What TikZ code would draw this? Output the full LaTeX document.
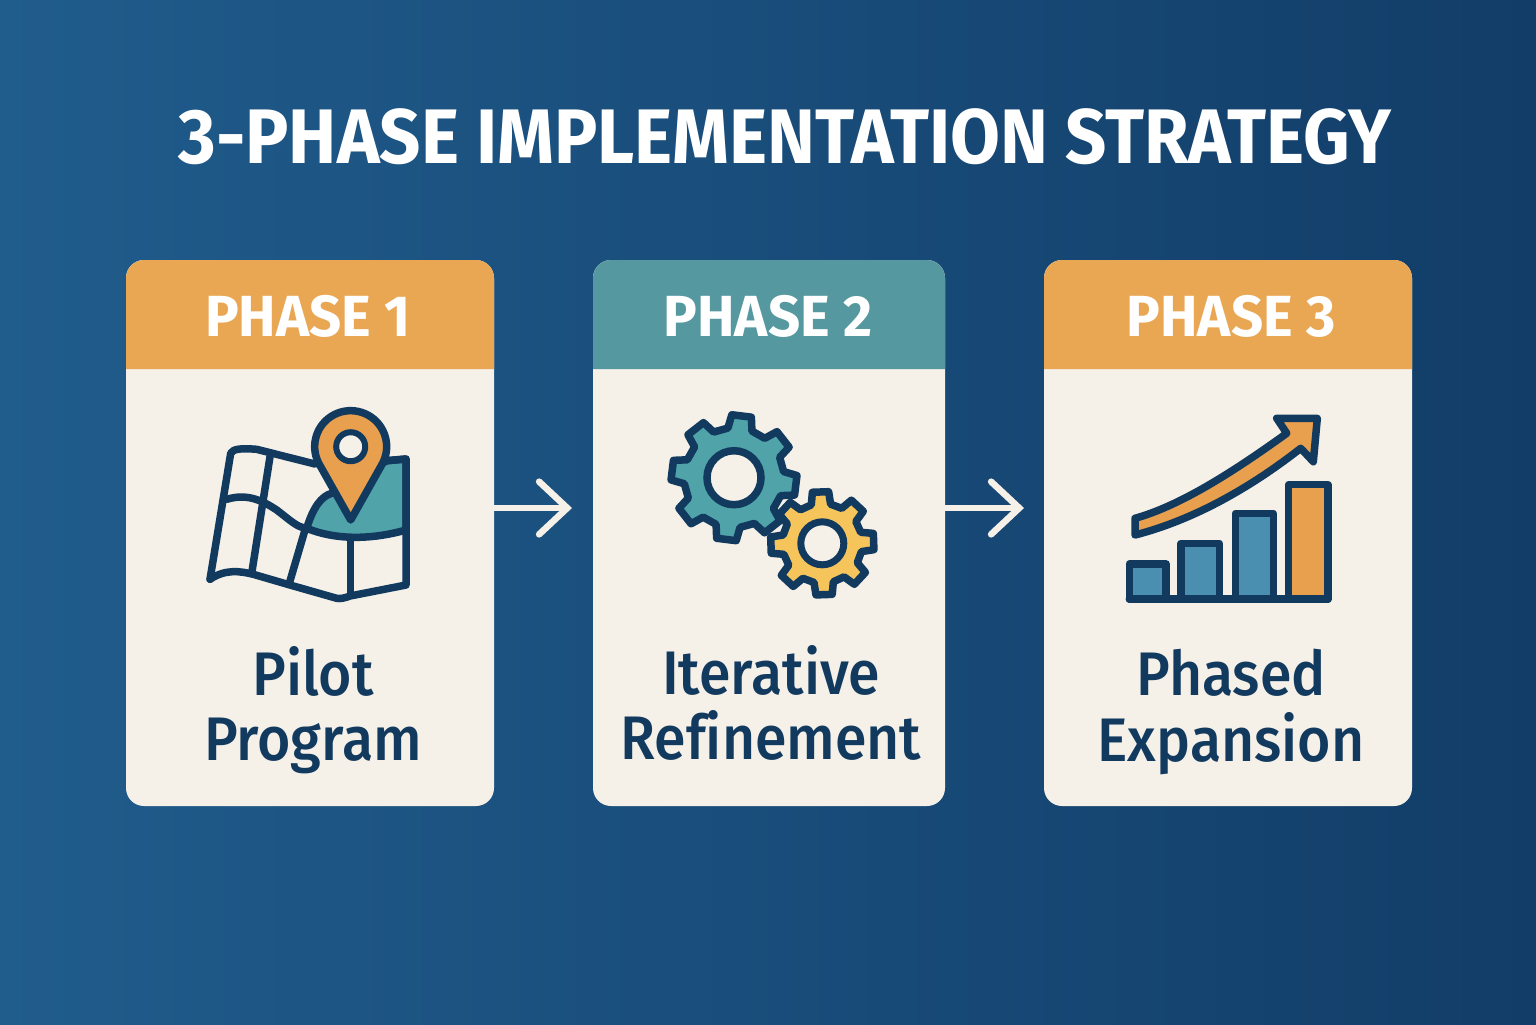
\documentclass[tikz,border=0pt]{standalone}
\usepackage{fontspec}
\setmainfont[Ligatures=NoCommon]{Fira Sans}
\newfontfamily\titlefont[FakeStretch=0.935,Ligatures=NoCommon,UprightFont=* Bold]{Fira Sans}
\newfontfamily\headfont[FakeStretch=0.97,Ligatures=NoCommon,UprightFont=* Bold]{Fira Sans}
\newfontfamily\labelfont[FakeStretch=0.93,Ligatures=NoCommon,UprightFont=* Medium]{Fira Sans}
\usetikzlibrary{arrows.meta}
\definecolor{bgleft}{HTML}{205C8C}
\definecolor{bgright}{HTML}{123D68}
\definecolor{cardcream}{HTML}{F5F0E8}
\definecolor{inkblue}{HTML}{123A5E}
\definecolor{phaseorange}{HTML}{E9A754}
\definecolor{phaseteal}{HTML}{55989F}
\definecolor{iconorange}{HTML}{E89F4E}
\definecolor{iconteal}{HTML}{4FA3A9}
\definecolor{iconyellow}{HTML}{F5C55C}
\definecolor{iconblue}{HTML}{4A8FB0}
\tikzset{
	cardbox/.style={fill=cardcream, rounded corners=0.18cm, inner sep=0, minimum height=5.46cm},
	headtext/.style={color=white, font=\headfont\fontsize{16.5}{18}\selectfont},
	cardtext/.style={color=inkblue, align=center, font=\labelfont\fontsize{17.5}{18.6}\selectfont},
	flowarrow/.style={line width=0.65mm, color=cardcream, line cap=round, -{Straight Barb[length=8pt,width=15pt,line cap=round]}},
	iconline/.style={line width=0.75mm, color=inkblue, line join=round, line cap=round},
}
\def\phasehead[#1](#2:#3){\fill[#1] (#2, -3.69) [rounded corners=0.18cm] -- (#2, -2.6) -- (#3, -2.6) [sharp corners] -- (#3, -3.69) -- cycle;}
\def\gearwheel[#1](#2)(#3:#4:#5){\draw[iconline, fill=#1, shift={(#2)}] (#3-14:#5) \foreach \a in {0,45,...,315} { -- (#3+\a-14:#5) -- (#3+\a-9:#4) -- (#3+\a+9:#4) -- (#3+\a+14:#5) } -- cycle;}
\begin{document}
\begin{tikzpicture}
			%%%%% BACKGROUND %%%%%
			
			\useasboundingbox (0, 0) rectangle (15.36, -10.24);
			\shade[left color=bgleft, right color=bgright] (0, 0) rectangle (15.36, -10.24);
			
			\node[color=white, font=\titlefont\fontsize{22}{24}\selectfont] (title) at (7.85, -1.37) {3-PHASE IMPLEMENTATION STRATEGY};
			
			%%%%% CARDS %%%%%
			
			\node[cardbox, minimum width=3.68cm] (card1) at (3.10, -5.33) {};
			\node[cardbox, minimum width=3.52cm] (card2) at (7.69, -5.33) {};
			\node[cardbox, minimum width=3.68cm] (card3) at (12.28, -5.33) {};
			
			\phasehead[phaseorange](1.26:4.94);
			\phasehead[phaseteal](5.93:9.45);
			\phasehead[phaseorange](10.44:14.12);
			
			\node[headtext] (head1) at (3.08, -3.16) {PHASE 1};
			\node[headtext] (head2) at (7.68, -3.16) {PHASE 2};
			\node[headtext] (head3) at (12.31, -3.16) {PHASE 3};
			
			\node[cardtext] (label1) at (3.13, -7.10) {Pilot\\Program};
			\node[cardtext] (label2) at (7.71, -7.03) {Iterative\\Refinement};
			\node[cardtext] (label3) at (12.31, -7.12) {Phased\\Expansion};
			
			%%%%% ARROWS %%%%%
			
			\coordinate (tip1) at (5.72, -5.08);
			\coordinate (tip2) at (10.24, -5.08);
			\draw[flowarrow] (card1.east |- tip1) -- (tip1);
			\draw[flowarrow] (card2.east |- tip2) -- (tip2);
			
			%%%%% MAP %%%%%
			
			\draw[iconline, fill=iconteal] (3.067, -5.283) .. controls (3.133, -5.067) and (3.217, -4.96) .. (3.317, -4.933) -- (3.867, -4.607) -- (4.06, -4.59) -- (4.06, -5.30) .. controls (3.767, -5.383) and (3.40, -5.417) .. (3.067, -5.283);
			\draw[iconline] (2.10, -5.793) -- (2.307, -4.533) .. controls (2.33, -4.49) and (2.40, -4.48) .. (2.567, -4.493) -- (3.15, -4.64);
			\draw[iconline] (3.867, -4.607) -- (4.06, -4.59) -- (4.06, -5.85) -- (3.50, -5.96) .. controls (3.45, -5.98) and (3.40, -5.99) .. (3.367, -5.983) -- (2.90, -5.85) -- (2.533, -5.743) .. controls (2.40, -5.71) and (2.25, -5.69) .. (2.10, -5.793);
			\draw[iconline] (2.267, -4.993) .. controls (2.467, -4.933) and (2.617, -5.00) .. (2.767, -5.10) .. controls (2.90, -5.20) and (2.967, -5.273) .. (3.067, -5.283);
			\draw[iconline] (2.70, -4.567) -- (2.517, -5.733);
			\draw[iconline] (3.05, -5.30) -- (2.893, -5.833);
			\draw[iconline] (3.507, -5.383) -- (3.507, -5.95);
			
			\draw[iconline, fill=iconorange] (3.507, -5.2) -- (3.186, -4.63) arc (207:-27:0.36) -- cycle;
			\draw[line width=0.6mm, color=inkblue, fill=cardcream] (3.507, -4.467) circle (0.145);
			
			%%%%% GEARS %%%%%
			
			\gearwheel[iconteal](7.34, -4.777)(83:0.63:0.50);
			\draw[line width=0.75mm, color=inkblue, fill=cardcream] (7.34, -4.777) circle (0.27);
			
			\gearwheel[iconyellow](8.223, -5.433)(92:0.52:0.40);
			\draw[line width=0.7mm, color=inkblue, fill=cardcream] (8.223, -5.433) circle (0.215);
			
			%%%%% CHART %%%%%
			
			\draw[iconline, fill=iconorange] (11.35, -5.183) .. controls (11.767, -5.067) and (12.267, -4.767) .. (12.867, -4.333) -- (12.767, -4.183) -- (13.173, -4.183) -- (13.133, -4.617) -- (13.007, -4.483) .. controls (12.50, -4.88) and (11.933, -5.20) .. (11.35, -5.35) -- cycle;
			
			\draw[iconline, fill=iconblue] (11.293, -5.99) rectangle (11.66, -5.64);
			\draw[iconline, fill=iconblue] (11.81, -5.99) rectangle (12.193, -5.433);
			\draw[iconline, fill=iconblue] (12.353, -5.99) rectangle (12.733, -5.133);
			\draw[iconline, fill=iconorange] (12.887, -5.99) rectangle (13.28, -4.847);
			\draw[iconline] (11.293, -5.99) -- (13.28, -5.99);
			
			%%%%% END %%%%%
		\end{tikzpicture}
\end{document}
